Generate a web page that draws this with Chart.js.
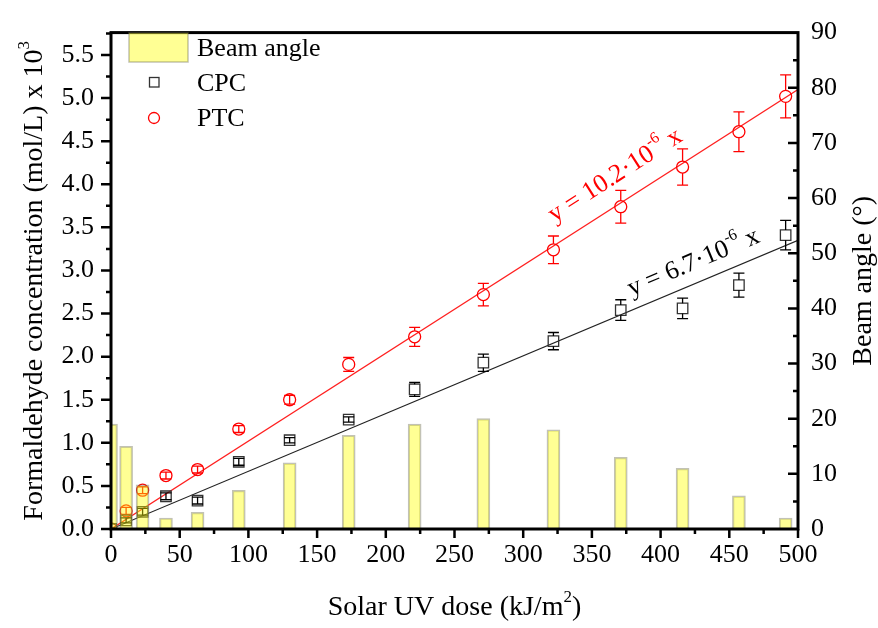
<!DOCTYPE html>
<html>
<head>
<meta charset="utf-8">
<title>Formaldehyde vs solar UV dose</title>
<script src="https://cdn.jsdelivr.net/npm/chart.js"></script>
<style>
  html, body { margin: 0; padding: 0; background: #fff; }
  #wrap { width: 878px; height: 628px; }
</style>
</head>
<body>
<div id="wrap"><canvas id="uvChart" width="878" height="628"></canvas></div>
<script>
  // values
  const doses     = [0, 11, 23, 40, 63, 93, 130, 173, 221, 271, 322, 371, 416, 457, 491];
  const beamAngle = [19, 15, 8, 2, 3, 7, 12, 17, 19, 20, 18, 13, 11, 6, 2];
  const cpcConc   = [0, 0.10, 0.20, 0.38, 0.33, 0.78, 1.03, 1.27, 1.62, 1.93, 2.18, 2.54, 2.56, 2.83, 3.41];
  const cpcErr    = [0, 0.03, 0.04, 0.04, 0.04, 0.04, 0.03, 0.03, 0.08, 0.10, 0.10, 0.12, 0.12, 0.14, 0.17];
  const ptcConc   = [0, 0.21, 0.45, 0.62, 0.69, 1.16, 1.50, 1.91, 2.23, 2.72, 3.24, 3.74, 4.20, 4.61, 5.02];
  const ptcErr    = [0, 0.04, 0.04, 0.04, 0.04, 0.04, 0.05, 0.08, 0.11, 0.13, 0.16, 0.19, 0.21, 0.23, 0.25];
  // fitted lines y = k*x, endpoints at 0 and 500 kJ/m2
  const fitX   = [0, 500];
  const cpcFit = [0, 3.35];
  const ptcFit = [0, 5.10];

  const FONT = '"Liberation Serif", "Times New Roman", serif';
  const BAR_FILL = 'rgba(255,255,0,0.42)';
  const BAR_EDGE = 'rgba(120,120,90,0.45)';

  const pts = (xs, ys) => xs.map((x, i) => ({ x: x, y: ys[i] }));

  // draws text with superscript pieces, centred on (x, y), rotated by angle
  function drawRich(ctx, parts, x, y, angle, size, color) {
    ctx.save();
    ctx.translate(x, y);
    ctx.rotate(angle);
    ctx.fillStyle = color;
    ctx.textBaseline = 'middle';
    ctx.textAlign = 'left';
    const widths = parts.map(p => {
      ctx.font = (p.sup ? Math.round(size * 0.62) : size) + 'px ' + FONT;
      return ctx.measureText(p.t).width;
    });
    let cx = -widths.reduce((a, b) => a + b, 0) / 2;
    parts.forEach((p, i) => {
      ctx.font = (p.sup ? Math.round(size * 0.62) : size) + 'px ' + FONT;
      ctx.fillText(p.t, cx, p.sup ? -size * 0.38 : 0);
      cx += widths[i];
    });
    ctx.restore();
  }

  const errorBars = {
    id: 'errorBars',
    afterDatasetDraw(chart, args) {
      const ds = chart.data.datasets[args.index];
      if (!ds.errors) return;
      const ctx = chart.ctx, xs = chart.scales.x, ys = chart.scales.y;
      const half = ds.markerHalf;
      ctx.save();
      ctx.strokeStyle = ds.errColor;
      ctx.lineWidth = 1.3;
      ds.data.forEach((p, i) => {
        const e = ds.errors[i];
        if (!e) return;
        const px = xs.getPixelForValue(p.x), py = ys.getPixelForValue(p.y);
        const top = ys.getPixelForValue(p.y + e), bot = ys.getPixelForValue(p.y - e);
        ctx.beginPath();
        if (py - top > half) {
          ctx.moveTo(px, top); ctx.lineTo(px, py - half);
          ctx.moveTo(px, py + half); ctx.lineTo(px, bot);
        } else {
          ctx.moveTo(px, top); ctx.lineTo(px, bot);
        }
        ctx.moveTo(px - 5.5, top); ctx.lineTo(px + 5.5, top);
        ctx.moveTo(px - 5.5, bot); ctx.lineTo(px + 5.5, bot);
        ctx.stroke();
      });
      ctx.restore();
    }
  };

  const decor = {
    id: 'decor',
    afterDraw(chart) {
      const ctx = chart.ctx, a = chart.chartArea;
      const xs = chart.scales.x, ys = chart.scales.y, yr = chart.scales.y1;
      ctx.save();

      // frame
      ctx.strokeStyle = '#000';
      ctx.lineWidth = 3;
      ctx.strokeRect(a.left, a.top, a.right - a.left, a.bottom - a.top);

      // ticks
      ctx.lineWidth = 2.5;
      ctx.beginPath();
      for (let i = 0; i <= 23; i++) {          // left, every 0.25
        const py = ys.getPixelForValue(i * 0.25);
        ctx.moveTo(a.left, py); ctx.lineTo(a.left - (i % 2 ? 5 : 10), py);
      }
      for (let i = 0; i <= 20; i++) {          // bottom, every 25
        const px = xs.getPixelForValue(i * 25);
        ctx.moveTo(px, a.bottom); ctx.lineTo(px, a.bottom + (i % 2 ? 5 : 9));
      }
      for (let i = 1; i < 18; i++) {           // right, every 5, inward
        const py = yr.getPixelForValue(i * 5);
        ctx.moveTo(a.right, py); ctx.lineTo(a.right - (i % 2 ? 5 : 10), py);
      }
      ctx.stroke();

      // axis titles
      const midY = (a.top + a.bottom) / 2;
      drawRich(ctx, [{ t: 'Formaldehyde concentration (mol/L) x 10' }, { t: '3', sup: true }],
        35, midY, -Math.PI / 2, 28, '#000');
      drawRich(ctx, [{ t: 'Beam angle (°)' }], 864, midY, -Math.PI / 2, 28, '#000');
      drawRich(ctx, [{ t: 'Solar UV dose (kJ/m' }, { t: '2', sup: true }, { t: ')' }],
        (a.left + a.right) / 2, 608, 0, 28, '#000');

      // fit equations, parallel to their lines
      const ang = k => Math.atan2(ys.getPixelForValue(k * 500) - ys.getPixelForValue(0),
                                  xs.getPixelForValue(500) - xs.getPixelForValue(0));
      drawRich(ctx, [{ t: 'y = 10.2·10' }, { t: '-6', sup: true }, { t: ' x' }],
        xs.getPixelForValue(367), ys.getPixelForValue(4.10), ang(ptcFit[1] / 500), 26, '#ff0000');
      drawRich(ctx, [{ t: 'y = 6.7·10' }, { t: '-6', sup: true }, { t: ' x' }],
        xs.getPixelForValue(424), ys.getPixelForValue(3.09), ang(cpcFit[1] / 500), 26, '#000');

      // legend
      ctx.fillStyle = BAR_FILL;
      ctx.fillRect(129, 33, 59, 29);
      ctx.strokeStyle = BAR_EDGE;
      ctx.lineWidth = 1.5;
      ctx.strokeRect(129, 33, 59, 29);
      ctx.strokeStyle = '#333';
      ctx.lineWidth = 1.3;
      ctx.strokeRect(149.5, 77.5, 9.5, 9.5);
      ctx.strokeStyle = '#ff0000';
      ctx.beginPath();
      ctx.arc(154, 118, 5.5, 0, Math.PI * 2);
      ctx.stroke();
      ctx.fillStyle = '#000';
      ctx.font = '26px ' + FONT;
      ctx.textBaseline = 'middle';
      ctx.textAlign = 'left';
      ctx.fillText('Beam angle', 197, 49);
      ctx.fillText('CPC', 197, 84);
      ctx.fillText('PTC', 197, 119);

      ctx.restore();
    }
  };

  Chart.defaults.font.family = FONT;
  Chart.defaults.color = '#000';

  new Chart(document.getElementById('uvChart'), {
    type: 'bar',
    data: {
      datasets: [
        {
          type: 'bar',
          label: 'Beam angle',
          data: pts(doses, beamAngle),
          yAxisID: 'y1',
          backgroundColor: BAR_FILL,
          borderColor: BAR_EDGE,
          borderWidth: 1.5,
          barThickness: 13,
          order: 0
        },
        {
          type: 'scatter',
          label: 'CPC',
          data: pts(doses, cpcConc),
          yAxisID: 'y',
          pointStyle: 'rect',
          pointRadius: 7.4,
          borderColor: '#333',
          backgroundColor: 'rgba(0,0,0,0)',
          pointBorderWidth: 1.3,
          errors: cpcErr,
          errColor: '#000',
          markerHalf: 5.2,
          order: 1
        },
        {
          type: 'scatter',
          label: 'PTC',
          data: pts(doses, ptcConc),
          yAxisID: 'y',
          pointStyle: 'circle',
          pointRadius: 6,
          borderColor: '#ff0000',
          backgroundColor: 'rgba(0,0,0,0)',
          pointBorderWidth: 1.3,
          errors: ptcErr,
          errColor: '#ff0000',
          markerHalf: 6,
          order: 1
        },
        {
          type: 'line',
          label: 'CPC fit',
          data: pts(fitX, cpcFit),
          yAxisID: 'y',
          borderColor: '#222',
          borderWidth: 1.1,
          pointRadius: 0,
          order: 2
        },
        {
          type: 'line',
          label: 'PTC fit',
          data: pts(fitX, ptcFit),
          yAxisID: 'y',
          borderColor: '#ff2020',
          borderWidth: 1.3,
          pointRadius: 0,
          order: 2
        }
      ]
    },
    options: {
      responsive: false,
      animation: false,
      layout: { padding: { top: 24, left: 0, right: 0, bottom: 0 } },
      plugins: { legend: { display: false }, tooltip: { enabled: false } },
      scales: {
        x: {
          type: 'linear',
          offset: false,
          min: 0, max: 500,
          grid: { display: false, drawTicks: false, offset: false },
          border: { display: false },
          ticks: { stepSize: 50, padding: 11, font: { size: 26 }, maxRotation: 0 },
          afterFit(s) { s.height = 99; }
        },
        y: {
          type: 'linear',
          position: 'left',
          min: 0, max: 5.76,
          grid: { display: false, drawTicks: false },
          border: { display: false },
          ticks: { stepSize: 0.5, includeBounds: false, padding: 17, font: { size: 26 },
                   callback: v => v.toFixed(1) },
          afterFit(s) { s.width = 111; }
        },
        y1: {
          type: 'linear',
          position: 'right',
          min: 0, max: 90,
          grid: { display: false, drawTicks: false },
          border: { display: false },
          ticks: { stepSize: 10, padding: 13, font: { size: 26 } },
          afterFit(s) { s.width = 80; }
        }
      }
    },
    plugins: [errorBars, decor]
  });
</script>
</body>
</html>
